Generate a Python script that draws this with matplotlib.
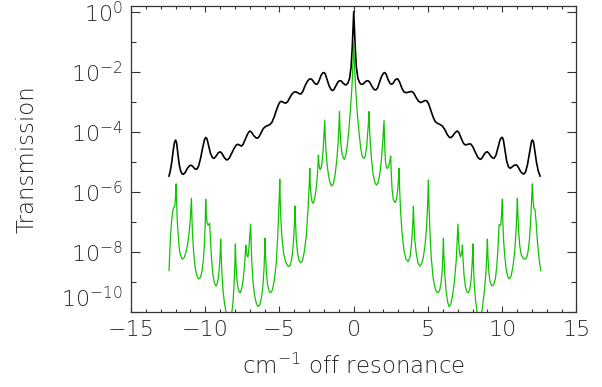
import matplotlib
matplotlib.use('Agg')
import matplotlib.pyplot as plt
import numpy as np
from matplotlib.ticker import FixedLocator, NullFormatter

# values: wavenumber offset (cm^-1) and log10(transmission)
black_x = [-12.44, -12.35, -12.25, -12.15, -12.07, -11.99, -11.92, -11.84, -11.75, -11.65,
           -11.55, -11.47, -11.35, -11.20, -11.05, -10.93, -10.82, -10.70, -10.57, -10.45,
           -10.32, -10.18, -10.05, -9.97, -9.88, -9.78, -9.65, -9.52, -9.41, -9.28,
           -9.12, -9.00, -8.88, -8.72, -8.60, -8.51, -8.38, -8.22, -8.05, -7.90,
           -7.80, -7.68, -7.56, -7.45, -7.30, -7.15, -7.05, -6.98, -6.88, -6.75,
           -6.60, -6.49, -6.38, -6.25, -6.10, -5.95, -5.80, -5.65, -5.50, -5.35,
           -5.20, -5.05, -4.95, -4.85, -4.72, -4.58, -4.45, -4.30, -4.15, -4.02,
           -3.91, -3.78, -3.65, -3.55, -3.42, -3.28, -3.12, -3.00, -2.90, -2.80,
           -2.66, -2.55, -2.45, -2.33, -2.20, -2.08, -2.00, -1.92, -1.80, -1.66,
           -1.52, -1.44, -1.34, -1.20, -1.06, -0.95, -0.85, -0.72, -0.60, -0.50,
           -0.38, -0.28, -0.18, -0.10, -0.05, 0.00, 0.05, 0.10, 0.18, 0.28,
           0.40, 0.50, 0.60, 0.72, 0.84, 0.96, 1.08, 1.22, 1.36, 1.48,
           1.60, 1.74, 1.88, 2.00, 2.09, 2.18, 2.30, 2.44, 2.56, 2.66,
           2.78, 2.88, 2.98, 3.10, 3.25, 3.38, 3.50, 3.62, 3.76, 3.88,
           3.95, 4.05, 4.20, 4.35, 4.51, 4.65, 4.80, 4.92, 5.05, 5.20,
           5.35, 5.50, 5.64, 5.80, 5.97, 6.12, 6.30, 6.45, 6.53, 6.65,
           6.80, 6.92, 6.98, 7.08, 7.22, 7.38, 7.50, 7.62, 7.75, 7.88,
           8.02, 8.18, 8.35, 8.48, 8.55, 8.65, 8.80, 8.92, 9.00, 9.10,
           9.25, 9.38, 9.45, 9.58, 9.72, 9.85, 9.94, 10.01, 10.08, 10.18,
           10.30, 10.42, 10.53, 10.65, 10.80, 10.90, 10.98, 11.10, 11.25, 11.38,
           11.47, 11.58, 11.70, 11.82, 11.92, 11.98, 12.05, 12.12, 12.20, 12.30,
           12.42, 12.55]
black_logT = [-5.48, -5.30, -5.00, -4.60, -4.35, -4.28, -4.40, -4.75, -5.10, -5.32,
              -5.41, -5.42, -5.36, -5.22, -5.13, -5.12, -5.17, -5.24, -5.25, -5.15,
              -4.90, -4.55, -4.27, -4.19, -4.24, -4.45, -4.72, -4.86, -4.89, -4.82,
              -4.70, -4.67, -4.72, -4.86, -4.93, -4.94, -4.88, -4.72, -4.55, -4.44,
              -4.42, -4.45, -4.48, -4.42, -4.25, -4.08, -4.00, -3.98, -4.02, -4.12,
              -4.20, -4.22, -4.17, -4.05, -3.90, -3.83, -3.80, -3.76, -3.68, -3.50,
              -3.27, -3.08, -3.00, -2.99, -3.03, -3.05, -3.00, -2.86, -2.74, -2.68,
              -2.67, -2.70, -2.74, -2.74, -2.65, -2.47, -2.32, -2.25, -2.24, -2.27,
              -2.37, -2.42, -2.41, -2.30, -2.12, -2.04, -2.03, -2.07, -2.25, -2.47,
              -2.60, -2.63, -2.60, -2.47, -2.34, -2.30, -2.31, -2.38, -2.43, -2.44,
              -2.37, -2.22, -1.85, -1.20, -0.60, 0.00, -0.60, -1.20, -1.85, -2.22,
              -2.37, -2.42, -2.42, -2.37, -2.31, -2.30, -2.35, -2.48, -2.59, -2.61,
              -2.55, -2.35, -2.15, -2.05, -2.03, -2.08, -2.25, -2.39, -2.42, -2.38,
              -2.28, -2.24, -2.25, -2.36, -2.56, -2.67, -2.70, -2.69, -2.67, -2.66,
              -2.67, -2.72, -2.86, -2.98, -3.03, -3.00, -2.96, -2.97, -3.08, -3.30,
              -3.52, -3.67, -3.72, -3.76, -3.81, -3.92, -4.10, -4.19, -4.20, -4.15,
              -4.05, -3.99, -3.98, -4.03, -4.20, -4.38, -4.44, -4.43, -4.41, -4.41,
              -4.50, -4.68, -4.85, -4.91, -4.92, -4.87, -4.74, -4.68, -4.67, -4.72,
              -4.83, -4.88, -4.89, -4.78, -4.52, -4.28, -4.20, -4.19, -4.28, -4.60,
              -4.98, -5.17, -5.22, -5.18, -5.12, -5.11, -5.11, -5.20, -5.34, -5.40,
              -5.41, -5.33, -5.10, -4.75, -4.45, -4.30, -4.28, -4.38, -4.65, -5.00,
              -5.30, -5.48]

green_x = [-12.44, -12.40, -12.35, -12.28, -12.20, -12.14, -12.05, -12.00, -11.96, -11.93,
           -11.89, -11.83, -11.76, -11.68, -11.58, -11.52, -11.42, -11.32, -11.20, -11.09,
           -11.01, -10.97, -10.93, -10.90, -10.86, -10.79, -10.70, -10.58, -10.48, -10.42,
           -10.32, -10.22, -10.12, -10.05, -10.00, -9.97, -9.93, -9.87, -9.81, -9.70,
           -9.65, -9.58, -9.50, -9.40, -9.32, -9.27, -9.18, -9.10, -9.03, -8.99,
           -8.96, -8.93, -8.88, -8.80, -8.70, -8.58, -8.45, -8.35, -8.25, -8.15,
           -8.07, -8.01, -7.97, -7.94, -7.88, -7.80, -7.70, -7.64, -7.55, -7.45,
           -7.37, -7.31, -7.27, -7.22, -7.15, -7.12, -7.06, -7.00, -6.94, -6.91,
           -6.86, -6.78, -6.68, -6.56, -6.45, -6.33, -6.22, -6.12, -6.04, -6.00,
           -5.97, -5.94, -5.88, -5.80, -5.70, -5.60, -5.48, -5.35, -5.22, -5.12,
           -5.05, -5.01, -4.98, -4.95, -4.90, -4.82, -4.72, -4.58, -4.45, -4.36,
           -4.25, -4.15, -4.06, -3.99, -3.95, -3.92, -3.87, -3.78, -3.68, -3.57,
           -3.45, -3.33, -3.20, -3.08, -3.00, -2.96, -2.93, -2.87, -2.80, -2.72,
           -2.62, -2.52, -2.44, -2.38, -2.34, -2.28, -2.22, -2.14, -2.06, -2.00,
           -1.95, -1.92, -1.86, -1.77, -1.65, -1.55, -1.48, -1.38, -1.26, -1.14,
           -1.05, -1.00, -0.96, -0.93, -0.87, -0.78, -0.68, -0.62, -0.52, -0.42,
           -0.32, -0.22, -0.12, -0.05, 0.00, 0.05, 0.12, 0.22, 0.35, 0.47,
           0.58, 0.69, 0.78, 0.88, 0.95, 0.99, 1.03, 1.06, 1.12, 1.20,
           1.30, 1.42, 1.53, 1.64, 1.76, 1.87, 1.95, 2.00, 2.04, 2.08,
           2.13, 2.20, 2.27, 2.35, 2.42, 2.49, 2.52, 2.58, 2.66, 2.78,
           2.88, 2.96, 3.01, 3.05, 3.09, 3.15, 3.25, 3.38, 3.52, 3.66,
           3.78, 3.88, 3.95, 3.99, 4.02, 4.06, 4.12, 4.22, 4.33, 4.44,
           4.56, 4.68, 4.80, 4.90, 4.96, 5.00, 5.03, 5.07, 5.13, 5.22,
           5.34, 5.48, 5.58, 5.68, 5.78, 5.88, 5.96, 6.01, 6.04, 6.07,
           6.13, 6.21, 6.31, 6.42, 6.54, 6.66, 6.78, 6.90, 6.97, 7.02,
           7.06, 7.12, 7.18, 7.24, 7.29, 7.32, 7.36, 7.43, 7.53, 7.63,
           7.72, 7.82, 7.91, 7.98, 8.03, 8.06, 8.12, 8.20, 8.32, 8.43,
           8.55, 8.67, 8.80, 8.90, 8.96, 9.00, 9.04, 9.10, 9.18, 9.30,
           9.42, 9.54, 9.63, 9.70, 9.75, 9.79, 9.85, 9.90, 9.95, 10.01,
           10.04, 10.09, 10.17, 10.27, 10.38, 10.48, 10.60, 10.72, 10.84, 10.93,
           10.98, 11.02, 11.05, 11.10, 11.18, 11.28, 11.42, 11.54, 11.64, 11.74,
           11.83, 11.90, 11.96, 11.99, 12.03, 12.08, 12.13, 12.21, 12.28, 12.36,
           12.46, 12.59]
green_logT = [-8.63, -8.20, -7.60, -7.05, -6.70, -6.55, -6.48, -6.15, -5.74, -6.30,
              -6.90, -7.38, -7.85, -8.10, -8.23, -8.25, -8.20, -8.05, -7.80, -7.38,
              -6.95, -6.60, -6.22, -6.80, -7.40, -7.95, -8.45, -8.78, -8.89, -8.91,
              -8.85, -8.65, -8.25, -7.70, -7.05, -6.25, -6.80, -7.05, -7.12, -7.05,
              -7.60, -8.20, -8.70, -9.00, -9.12, -9.14, -9.05, -8.80, -8.40, -8.00,
              -7.58, -8.10, -8.70, -9.30, -9.75, -10.05, -10.25, -10.30, -10.15, -9.80,
              -9.20, -8.50, -7.74, -8.30, -8.85, -9.20, -9.36, -9.37, -9.25, -8.95,
              -8.55, -8.15, -7.78, -8.05, -8.17, -8.17, -7.90, -7.50, -7.08, -7.70,
              -8.40, -9.00, -9.45, -9.72, -9.83, -9.78, -9.55, -9.15, -8.55, -8.00,
              -7.55, -8.10, -8.70, -9.10, -9.32, -9.37, -9.28, -8.95, -8.40, -7.50,
              -6.60, -6.10, -5.59, -6.30, -7.00, -7.60, -8.05, -8.35, -8.47, -8.50,
              -8.42, -8.15, -7.70, -7.00, -6.48, -7.00, -7.60, -8.05, -8.30, -8.37,
              -8.30, -8.00, -7.50, -6.60, -5.80, -5.22, -5.75, -6.15, -6.35, -6.39,
              -6.20, -5.85, -5.40, -4.78, -5.10, -5.25, -5.25, -5.05, -4.60, -4.10,
              -3.63, -4.15, -4.70, -5.20, -5.60, -5.77, -5.81, -5.75, -5.45, -4.95,
              -4.35, -3.85, -3.33, -3.85, -4.40, -4.75, -4.90, -4.92, -4.75, -4.40,
              -3.90, -3.25, -2.50, -1.70, -1.00, -1.70, -2.50, -3.25, -4.00, -4.55,
              -4.83, -4.89, -4.80, -4.45, -4.00, -3.70, -3.33, -3.85, -4.40, -4.95,
              -5.40, -5.70, -5.78, -5.70, -5.40, -4.90, -4.35, -3.95, -3.63, -4.40,
              -4.95, -5.20, -5.22, -5.15, -5.00, -4.81, -5.30, -5.90, -6.25, -6.37,
              -6.25, -5.95, -5.60, -5.22, -5.90, -6.60, -7.35, -7.95, -8.25, -8.33,
              -8.20, -7.80, -7.30, -6.90, -6.48, -7.10, -7.65, -8.10, -8.38, -8.48,
              -8.42, -8.20, -7.80, -7.20, -6.60, -6.10, -5.61, -6.50, -7.30, -8.20,
              -8.85, -9.22, -9.34, -9.37, -9.30, -9.05, -8.60, -8.00, -7.55, -8.10,
              -8.75, -9.25, -9.65, -9.83, -9.75, -9.45, -9.00, -8.30, -7.60, -7.08,
              -7.60, -8.00, -8.17, -8.10, -7.95, -7.78, -8.25, -8.80, -9.20, -9.35,
              -9.37, -9.25, -8.90, -8.35, -7.74, -8.40, -9.10, -9.60, -10.10, -10.30,
              -10.20, -9.85, -9.30, -8.70, -8.10, -7.58, -8.20, -8.70, -9.00, -9.14,
              -9.10, -8.90, -8.50, -8.00, -7.50, -7.10, -7.13, -7.10, -6.80, -6.25,
              -7.00, -7.60, -8.15, -8.60, -8.85, -8.91, -8.80, -8.50, -8.00, -7.30,
              -6.75, -6.22, -6.70, -7.30, -7.80, -8.10, -8.23, -8.25, -8.20, -8.00,
              -7.60, -7.10, -6.50, -6.10, -5.74, -6.30, -6.55, -6.60, -7.00, -7.60,
              -8.15, -8.63]

major_y = [1e-10, 1e-8, 1e-6, 1e-4, 1e-2, 1e0]
minor_y = [1e-9, 1e-7, 1e-5, 1e-3, 1e-1]
y_labels = [r'$10^{-10}$', r'$10^{-8}$', r'$10^{-6}$', r'$10^{-4}$', r'$10^{-2}$', r'$10^{0}$']
x_ticks = [-15, -10, -5, 0, 5, 10, 15]

txt = '#262626'
plt.rcParams['font.family'] = 'DejaVu Sans'
plt.rcParams['font.weight'] = 'light'
plt.rcParams['axes.labelweight'] = 'light'
plt.rcParams['mathtext.fontset'] = 'custom'
plt.rcParams['mathtext.rm'] = 'DejaVu Sans:light'
plt.rcParams['mathtext.it'] = 'DejaVu Sans:light'
plt.rcParams['mathtext.bf'] = 'DejaVu Sans:light'

fig = plt.figure(figsize=(6.02, 3.87), dpi=100)
ax = fig.add_axes([0.2176, 0.1946, 0.74, 0.7907])

ax.plot(black_x, 10**np.array(black_logT), color='black', lw=1.2)
ax.plot(green_x, 10**np.array(green_logT), color='#10c400', lw=0.9)

ax.set_yscale('log')
ax.set_xlim(-15, 15)
ax.set_ylim(1e-10, 10**0.2)

ax.yaxis.set_major_locator(FixedLocator(major_y))
ax.yaxis.set_minor_locator(FixedLocator(minor_y))
ax.yaxis.set_minor_formatter(NullFormatter())
ax.set_yticklabels(y_labels)
ax.set_xticks(x_ticks)
ax.set_xticklabels([str(t).replace('-', '\u2212') for t in x_ticks])
ax.xaxis.set_minor_locator(FixedLocator(np.arange(-15, 16, 1)))

for s in ax.spines.values():
    s.set_color('#333333')
    s.set_linewidth(0.9)

ax.tick_params(axis='both', which='both', direction='in', top=True, right=True,
               colors='#333333', labelcolor=txt, width=0.8, labelsize=16)
ax.tick_params(axis='x', which='major', length=4.3, pad=6)
ax.tick_params(axis='x', which='minor', length=2.2)
ax.tick_params(axis='y', which='major', length=6.5, pad=6)
ax.tick_params(axis='y', which='minor', length=3.6)

# bottom label sits on the axis, like in the original
ax.get_yticklabels()[0].set_verticalalignment('bottom')

ax.set_xlabel(r'cm$^{-1}$ off resonance', fontsize=16.5, color=txt,
              fontweight='light', labelpad=10)
ax.set_ylabel('Transmission', fontsize=16.5, color=txt,
              fontweight='light', labelpad=16)

fig.savefig('out.png', dpi=100)
